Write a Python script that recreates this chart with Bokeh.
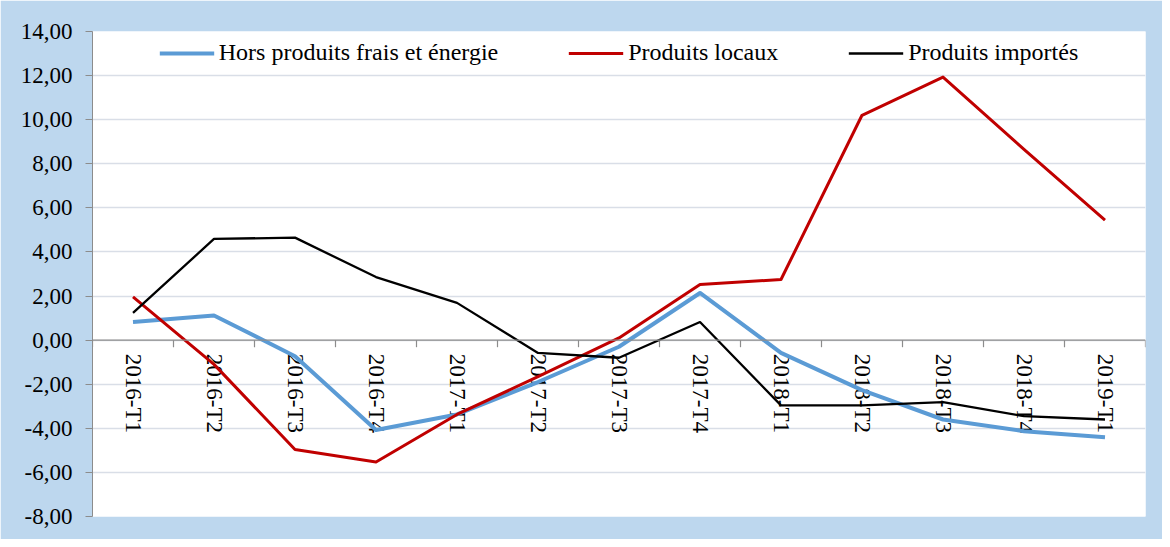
import math
from bokeh.plotting import figure
from bokeh.models import FactorRange, Range1d, FixedTicker, Span
from bokeh.core.properties import value
from bokeh.embed import file_html
from bokeh.resources import INLINE

categories = ["2016-T1", "2016-T2", "2016-T3", "2016-T4",
              "2017-T1", "2017-T2", "2017-T3", "2017-T4",
              "2018-T1", "2018-T2", "2018-T3", "2018-T4", "2019-T1"]
hors_frais_energie = [0.82, 1.12, -0.73, -4.08, -3.37, -1.90, -0.30, 2.14,
                      -0.58, -2.27, -3.60, -4.13, -4.40]
produits_locaux = [1.96, -1.10, -4.96, -5.53, -3.37, -1.66, 0.10, 2.52,
                   2.75, 10.20, 11.93, 8.65, 5.44]
produits_importes = [1.24, 4.59, 4.65, 2.86, 1.69, -0.58, -0.80, 0.82,
                     -2.96, -2.96, -2.81, -3.45, -3.60]
y_ticks = [-8, -6, -4, -2, 0, 2, 4, 6, 8, 10, 12, 14]
y_tick_labels = ["-8,00", "-6,00", "-4,00", "-2,00", "0,00", "2,00", "4,00",
                 "6,00", "8,00", "10,00", "12,00", "14,00"]
series_names = ["Hors produits frais et énergie", "Produits locaux", "Produits importés"]
title_fragment = "importés (en %)"

FONT = "Liberation Serif"
AXIS_GRAY = "#8C8C8C"

p = figure(width=1162, height=539, output_backend="svg", toolbar_location=None,
           x_range=FactorRange(factors=categories), y_range=Range1d(y_ticks[0], y_ticks[-1]),
           min_border_left=92, min_border_right=17, min_border_top=31, min_border_bottom=23)
p.border_fill_color = "#BDD7EE"
p.background_fill_color = "white"
p.outline_line_color = None

p.xaxis.visible = False
p.xgrid.visible = False
p.ygrid.ticker = FixedTicker(ticks=y_ticks)
p.ygrid.grid_line_color = "#D9DEE7"
p.ygrid.grid_line_width = 1.5

p.yaxis.ticker = FixedTicker(ticks=y_ticks)
p.yaxis.major_label_overrides = {t: l for t, l in zip(y_ticks, y_tick_labels)}
p.yaxis.major_label_text_font = FONT
p.yaxis.major_label_text_font_size = "23px"
p.yaxis.major_label_text_color = "black"
p.yaxis.major_label_standoff = 13
p.yaxis.major_tick_in = 0
p.yaxis.major_tick_out = 7
p.yaxis.minor_tick_line_color = None
p.yaxis.axis_line_color = AXIS_GRAY
p.yaxis.major_tick_line_color = AXIS_GRAY

# horizontal category axis at y = 0
p.add_layout(Span(location=0, dimension="width", line_color=AXIS_GRAY, line_width=1.2))
bounds = list(range(len(categories) + 1))
p.segment(x0=bounds, x1=bounds, y0=[0] * len(bounds), y1=[-0.32] * len(bounds),
          line_color=AXIS_GRAY, line_width=1.2)
p.text(x=categories, y=[-0.62] * len(categories), text=categories, angle=-math.pi / 2,
       text_align="left", text_baseline="middle", text_font=value(FONT),
       text_font_size=value("23px"), text_color="black")

p.line(categories, hors_frais_energie, line_color="#5B9BD5", line_width=4,
       line_join="round", legend_label=series_names[0])
p.line(categories, produits_locaux, line_color="#C00000", line_width=3,
       line_join="round", legend_label=series_names[1])
p.line(categories, produits_importes, line_color="black", line_width=2.3,
       line_join="round", legend_label=series_names[2])

lg = p.legend[0]
lg.orientation = "horizontal"
lg.location = "top_center"
lg.border_line_color = None
lg.background_fill_alpha = 0
lg.spacing = 70
lg.glyph_width = 55
lg.glyph_height = 24
lg.label_height = 24
lg.label_standoff = 5
lg.padding = 0
lg.margin = 8
lg.label_text_font = FONT
lg.label_text_font_size = "24px"
lg.label_text_color = "black"

html = file_html(p, INLINE)
html = html.replace(
    "<body>",
    "<body><div style=\"position:absolute;left:8px;top:-16px;line-height:1;"
    "font-family:'Liberation Serif';font-weight:bold;font-style:italic;font-size:22px;\">"
    + title_fragment + "</div>", 1)
open("out.html", "w").write(html)
